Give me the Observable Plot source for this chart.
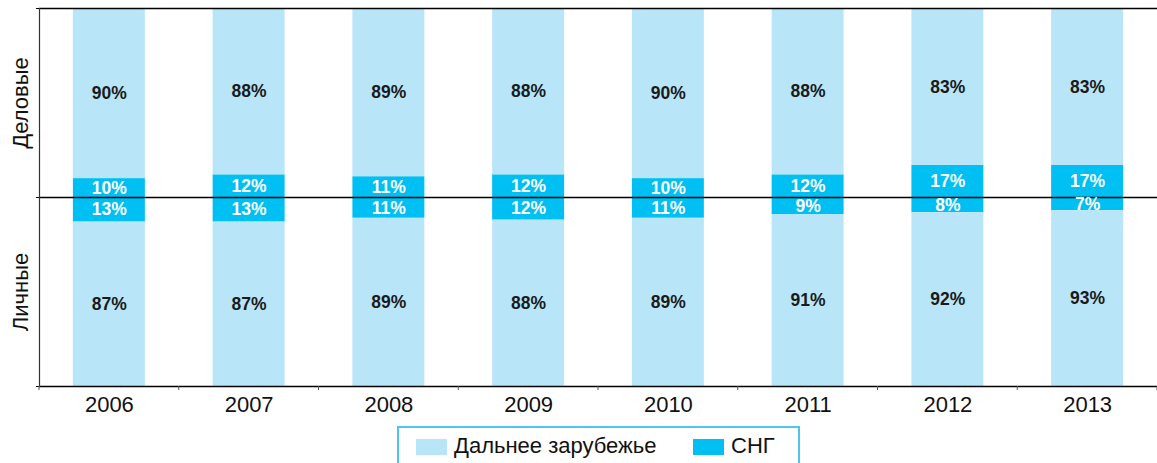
<!DOCTYPE html>
<html>
<head>
<meta charset="utf-8">
<script src="https://cdn.jsdelivr.net/npm/d3@7"></script>
<script src="https://cdn.jsdelivr.net/npm/@observablehq/plot@0.6"></script>
<style>
  html, body { margin: 0; padding: 0; background: #fff; overflow: hidden; }
  #wrap { position: relative; width: 1157px; height: 463px; font-family: "Liberation Sans", Arial, Helvetica, sans-serif; }
  #legend { position: absolute; left: 397px; top: 426px; width: 403px; height: 60px; box-sizing: border-box;
            border: 2px solid #4ec4ef; background: #fff; }
  .sw { position: absolute; top: 11px; width: 31px; height: 16px; }
  .lt { position: absolute; top: 5px; font-size: 22px; color: #111; line-height: 26px; white-space: nowrap; }
</style>
</head>
<body>
<div id="wrap"></div>
<script>
const years = ["2006", "2007", "2008", "2009", "2010", "2011", "2012", "2013"];
const businessFar = [90, 88, 89, 88, 90, 88, 83, 83];
const businessCis = [10, 12, 11, 12, 10, 12, 17, 17];
const personalFar = [87, 87, 89, 88, 89, 91, 92, 93];
const personalCis = [13, 13, 11, 12, 11, 9, 8, 7];
const groupLabels = ["Деловые", "Личные"];
const groupMid = [50, -50];
const seriesNames = ["Дальнее зарубежье", "СНГ"];
const colorFar = "#b9e5f9";
const colorCis = "#00bff2";

const rows = [];
years.forEach((year, i) => {
  rows.push({year, kind: "cis", y1: 0, y2: businessCis[i], v: businessCis[i]});
  rows.push({year, kind: "far", y1: businessCis[i], y2: businessCis[i] + businessFar[i], v: businessFar[i]});
  rows.push({year, kind: "cis", y1: 0, y2: -personalCis[i], v: personalCis[i]});
  rows.push({year, kind: "far", y1: -personalCis[i], y2: -(personalCis[i] + personalFar[i]), v: personalFar[i]});
});
const groups = groupLabels.map((label, i) => ({label, y: groupMid[i]}));

const boundaryTicks = (index, scales, values, dim) => {
  const step = (dim.width - dim.marginLeft - dim.marginRight) / years.length;
  const g = d3.create("svg:g");
  const yb = dim.height - dim.marginBottom;
  for (let i = 0; i <= years.length; i++) {
    const x = dim.marginLeft + i * step;
    g.append("line").attr("x1", x).attr("x2", x).attr("y1", yb).attr("y2", yb + 4)
      .attr("stroke", "#555").attr("stroke-width", 1);
  }
  return g.node();
};

const chart = Plot.plot({
  width: 1157,
  height: 420,
  marginLeft: 39,
  marginRight: 0,
  marginTop: 8,
  marginBottom: 34,
  style: {fontFamily: "'Liberation Sans', Arial, Helvetica, sans-serif", background: "#fff"},
  x: {type: "band", domain: years, paddingInner: 0.485, paddingOuter: 0.2425, round: false, axis: null},
  y: {domain: [-100, 100], axis: null},
  color: {domain: ["far", "cis"], range: [colorFar, colorCis]},
  marks: [
    Plot.barY(rows, {x: "year", y1: "y1", y2: "y2", fill: "kind"}),
    Plot.ruleY([100], {stroke: "#000", strokeWidth: 1.6}),
    Plot.ruleY([0], {stroke: "#000", strokeWidth: 1.3}),
    Plot.ruleY([-100], {stroke: "#000", strokeWidth: 1.3}),
    Plot.axisY({ticks: [-100, 0, 100], tickSize: 3, tickFormat: () => "", stroke: "#000"}),
    Plot.frame({anchor: "left", stroke: "#333", strokeWidth: 1.2}),
    boundaryTicks,
    Plot.axisX({tickSize: 0, tickPadding: 10, fontSize: 22, fill: "#111", label: null}),
    Plot.text(rows.filter(d => d.kind === "far"), {
      x: "year", y: d => (d.y1 + d.y2) / 2, text: d => d.v + "%",
      fill: "#1a1a1a", fontSize: 17.5, fontWeight: "bold"
    }),
    Plot.text(rows.filter(d => d.kind === "cis"), {
      x: "year", y: d => (d.y1 + d.y2) / 2, text: d => d.v + "%",
      fill: "#fff", fontSize: 17.5, fontWeight: "bold"
    }),
    Plot.text(groups, {
      y: "y", text: "label", frameAnchor: "left", textAnchor: "middle", dx: -19, rotate: -90,
      fontSize: 22, fill: "#111"
    })
  ]
});

const wrap = document.getElementById("wrap");
wrap.appendChild(chart);
const legend = document.createElement("div");
legend.id = "legend";
legend.innerHTML =
  `<div class="sw" style="left:17px;background:${colorFar}"></div>` +
  `<div class="lt" style="left:55px">${seriesNames[0]}</div>` +
  `<div class="sw" style="left:294px;background:${colorCis}"></div>` +
  `<div class="lt" style="left:332px">${seriesNames[1]}</div>`;
wrap.appendChild(legend);
</script>
</body>
</html>
